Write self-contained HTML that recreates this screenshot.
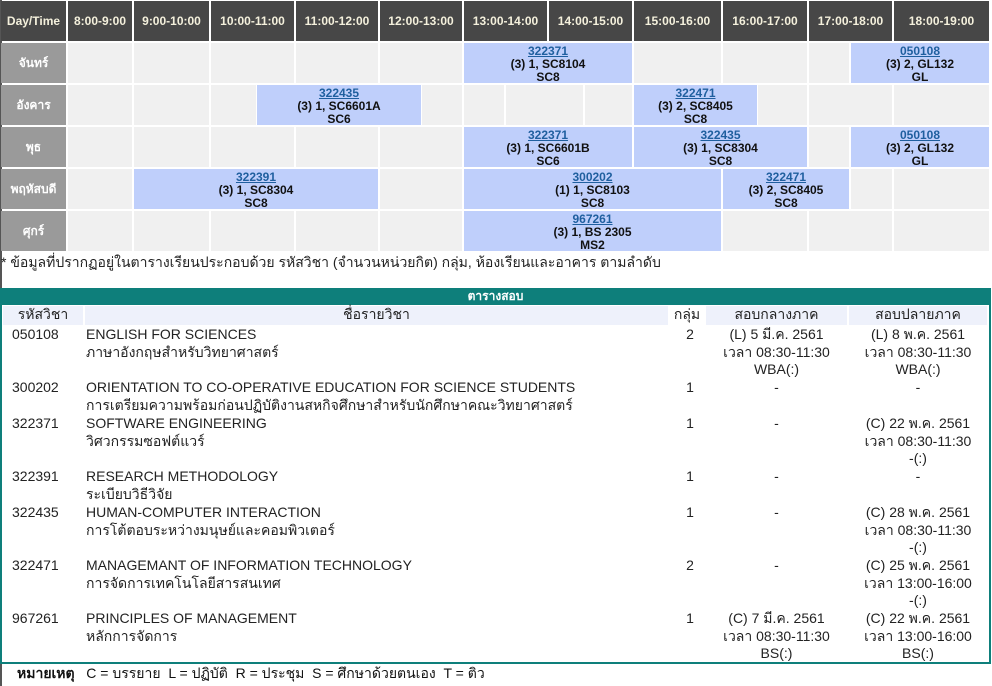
<!DOCTYPE html>
<html><head><meta charset="utf-8"><style>
*{margin:0;padding:0;box-sizing:border-box}
body{width:992px;height:686px;background:#fff;position:relative;overflow:hidden;font-family:"Liberation Sans","Noto Sans CJK SC",sans-serif;}
.c{position:absolute;background:#f0f0f0}
.h{position:absolute;background:#474747;color:#f4f0dc;font-weight:bold;font-size:12px;text-align:center;line-height:40px}
.d{position:absolute;background:#9a9a9a;color:#fff;font-weight:bold;font-size:12px;text-align:center;line-height:40px}
.b{position:absolute;background:#bfcffb;font-weight:bold;font-size:12px;text-align:center;line-height:13px;padding-top:2px;color:#111}
.b a{color:#1f5f9f;text-decoration:underline}
.t{position:absolute;font-size:14px;line-height:17.5px;color:#222}
.ctr{text-align:center}
</style></head><body>
<div style="position:absolute;left:0;top:0;width:989px;height:252px;background:#fff"></div>
<div style="position:absolute;left:0;top:0;width:2px;height:686px;background:#555"></div>
<!-- header -->
<div class="h" style="left:1px;top:1px;width:65px;height:40px">Day/Time</div>
<div class="h" style="left:68px;top:1px;width:64px;height:40px">8:00-9:00</div>
<div class="h" style="left:134px;top:1px;width:75px;height:40px">9:00-10:00</div>
<div class="h" style="left:211px;top:1px;width:83px;height:40px">10:00-11:00</div>
<div class="h" style="left:296px;top:1px;width:82px;height:40px">11:00-12:00</div>
<div class="h" style="left:380px;top:1px;width:82px;height:40px">12:00-13:00</div>
<div class="h" style="left:464px;top:1px;width:83px;height:40px">13:00-14:00</div>
<div class="h" style="left:549px;top:1px;width:83px;height:40px">14:00-15:00</div>
<div class="h" style="left:634px;top:1px;width:87px;height:40px">15:00-16:00</div>
<div class="h" style="left:723px;top:1px;width:84px;height:40px">16:00-17:00</div>
<div class="h" style="left:809px;top:1px;width:83px;height:40px">17:00-18:00</div>
<div class="h" style="left:894px;top:1px;width:95px;height:40px">18:00-19:00</div>
<!-- days -->
<div class="d" style="left:1px;top:43px;width:65px;height:40px">จันทร์</div>
<div class="d" style="left:1px;top:85px;width:65px;height:40px">อังคาร</div>
<div class="d" style="left:1px;top:127px;width:65px;height:40px">พุธ</div>
<div class="d" style="left:1px;top:169px;width:65px;height:40px">พฤหัสบดี</div>
<div class="d" style="left:1px;top:211px;width:65px;height:40px">ศุกร์</div>
<!-- Mon -->
<div class="c" style="left:68px;top:43px;width:64px;height:40px"></div>
<div class="c" style="left:134px;top:43px;width:75px;height:40px"></div>
<div class="c" style="left:211px;top:43px;width:83px;height:40px"></div>
<div class="c" style="left:296px;top:43px;width:82px;height:40px"></div>
<div class="c" style="left:380px;top:43px;width:82px;height:40px"></div>
<div class="b" style="left:464px;top:43px;width:168px;height:40px"><a>322371</a><br>(3) 1, SC8104<br>SC8</div>
<div class="c" style="left:634px;top:43px;width:87px;height:40px"></div>
<div class="c" style="left:723px;top:43px;width:84px;height:40px"></div>
<div class="c" style="left:809px;top:43px;width:40px;height:40px"></div>
<div class="b" style="left:851px;top:43px;width:138px;height:40px"><a>050108</a><br>(3) 2, GL132<br>GL</div>
<!-- Tue -->
<div class="c" style="left:68px;top:85px;width:64px;height:40px"></div>
<div class="c" style="left:134px;top:85px;width:75px;height:40px"></div>
<div class="c" style="left:211px;top:85px;width:45px;height:40px"></div>
<div class="b" style="left:257px;top:85px;width:164px;height:40px"><a>322435</a><br>(3) 1, SC6601A<br>SC6</div>
<div class="c" style="left:422px;top:85px;width:40px;height:40px"></div>
<div class="c" style="left:464px;top:85px;width:40px;height:40px"></div>
<div class="c" style="left:506px;top:85px;width:77px;height:40px"></div>
<div class="c" style="left:585px;top:85px;width:47px;height:40px"></div>
<div class="b" style="left:634px;top:85px;width:123px;height:40px"><a>322471</a><br>(3) 2, SC8405<br>SC8</div>
<div class="c" style="left:758px;top:85px;width:49px;height:40px"></div>
<div class="c" style="left:809px;top:85px;width:83px;height:40px"></div>
<div class="c" style="left:894px;top:85px;width:95px;height:40px"></div>
<!-- Wed -->
<div class="c" style="left:68px;top:127px;width:64px;height:40px"></div>
<div class="c" style="left:134px;top:127px;width:75px;height:40px"></div>
<div class="c" style="left:211px;top:127px;width:83px;height:40px"></div>
<div class="c" style="left:296px;top:127px;width:82px;height:40px"></div>
<div class="c" style="left:380px;top:127px;width:82px;height:40px"></div>
<div class="b" style="left:464px;top:127px;width:168px;height:40px"><a>322371</a><br>(3) 1, SC6601B<br>SC6</div>
<div class="b" style="left:634px;top:127px;width:173px;height:40px"><a>322435</a><br>(3) 1, SC8304<br>SC8</div>
<div class="c" style="left:809px;top:127px;width:40px;height:40px"></div>
<div class="b" style="left:851px;top:127px;width:138px;height:40px"><a>050108</a><br>(3) 2, GL132<br>GL</div>
<!-- Thu -->
<div class="c" style="left:68px;top:169px;width:64px;height:40px"></div>
<div class="b" style="left:134px;top:169px;width:244px;height:40px"><a>322391</a><br>(3) 1, SC8304<br>SC8</div>
<div class="c" style="left:380px;top:169px;width:82px;height:40px"></div>
<div class="b" style="left:464px;top:169px;width:257px;height:40px"><a>300202</a><br>(1) 1, SC8103<br>SC8</div>
<div class="b" style="left:723px;top:169px;width:126px;height:40px"><a>322471</a><br>(3) 2, SC8405<br>SC8</div>
<div class="c" style="left:851px;top:169px;width:41px;height:40px"></div>
<div class="c" style="left:894px;top:169px;width:95px;height:40px"></div>
<!-- Fri -->
<div class="c" style="left:68px;top:211px;width:64px;height:40px"></div>
<div class="c" style="left:134px;top:211px;width:75px;height:40px"></div>
<div class="c" style="left:211px;top:211px;width:83px;height:40px"></div>
<div class="c" style="left:296px;top:211px;width:82px;height:40px"></div>
<div class="c" style="left:380px;top:211px;width:82px;height:40px"></div>
<div class="b" style="left:464px;top:211px;width:257px;height:40px"><a>967261</a><br>(3) 1, BS 2305<br>MS2</div>
<div class="c" style="left:723px;top:211px;width:84px;height:40px"></div>
<div class="c" style="left:809px;top:211px;width:83px;height:40px"></div>
<div class="c" style="left:894px;top:211px;width:95px;height:40px"></div>

<div class="t" style="left:1px;top:254px">* ข้อมูลที่ปรากฏอยู่ในตารางเรียนประกอบด้วย รหัสวิชา (จำนวนหน่วยกิต) กลุ่ม, ห้องเรียนและอาคาร ตามลำดับ</div>

<!-- exam table -->
<div style="position:absolute;left:0;top:288px;width:991px;height:376px;border:2px solid #0e7f7b;background:#fff"></div>
<div style="position:absolute;left:0;top:288px;width:991px;height:17px;background:#0e7f7b;color:#fff;font-weight:bold;font-size:12px;text-align:center;line-height:17px">ตารางสอบ</div>
<div style="position:absolute;left:2px;top:306px;width:987px;height:19px;background:#fff"></div>
<div class="t ctr" style="left:3px;top:306px;width:80px;height:19px;background:#eef1fb">รหัสวิชา</div>
<div class="t ctr" style="left:85px;top:306px;width:583px;height:19px;background:#eef1fb">ชื่อรายวิชา</div>
<div class="t ctr" style="left:670px;top:306px;width:34px;height:19px;background:#fff">กลุ่ม</div>
<div class="t ctr" style="left:706px;top:306px;width:141px;height:19px;background:#eef1fb">สอบกลางภาค</div>
<div class="t ctr" style="left:849px;top:306px;width:138px;height:19px;background:#eef1fb">สอบปลายภาค</div>

<div class="t" style="left:12px;top:326px">050108</div>
<div class="t" style="left:86px;top:326px">ENGLISH FOR SCIENCES<br>ภาษาอังกฤษสำหรับวิทยาศาสตร์</div>
<div class="t ctr" style="left:670px;top:326px;width:40px">2</div>
<div class="t ctr" style="left:706px;top:326px;width:141px">(L) 5 มี.ค. 2561<br>เวลา 08:30-11:30<br>WBA(:)</div>
<div class="t ctr" style="left:849px;top:326px;width:138px">(L) 8 พ.ค. 2561<br>เวลา 08:30-11:30<br>WBA(:)</div>

<div class="t" style="left:12px;top:379px">300202</div>
<div class="t" style="left:86px;top:379px">ORIENTATION TO CO-OPERATIVE EDUCATION FOR SCIENCE STUDENTS<br>การเตรียมความพร้อมก่อนปฏิบัติงานสหกิจศึกษาสำหรับนักศึกษาคณะวิทยาศาสตร์</div>
<div class="t ctr" style="left:670px;top:379px;width:40px">1</div>
<div class="t ctr" style="left:706px;top:379px;width:141px">-</div>
<div class="t ctr" style="left:849px;top:379px;width:138px">-</div>

<div class="t" style="left:12px;top:415px">322371</div>
<div class="t" style="left:86px;top:415px">SOFTWARE ENGINEERING<br>วิศวกรรมซอฟต์แวร์</div>
<div class="t ctr" style="left:670px;top:415px;width:40px">1</div>
<div class="t ctr" style="left:706px;top:415px;width:141px">-</div>
<div class="t ctr" style="left:849px;top:415px;width:138px">(C) 22 พ.ค. 2561<br>เวลา 08:30-11:30<br>-(:)</div>

<div class="t" style="left:12px;top:468px">322391</div>
<div class="t" style="left:86px;top:468px">RESEARCH METHODOLOGY<br>ระเบียบวิธีวิจัย</div>
<div class="t ctr" style="left:670px;top:468px;width:40px">1</div>
<div class="t ctr" style="left:706px;top:468px;width:141px">-</div>
<div class="t ctr" style="left:849px;top:468px;width:138px">-</div>

<div class="t" style="left:12px;top:504px">322435</div>
<div class="t" style="left:86px;top:504px">HUMAN-COMPUTER INTERACTION<br>การโต้ตอบระหว่างมนุษย์และคอมพิวเตอร์</div>
<div class="t ctr" style="left:670px;top:504px;width:40px">1</div>
<div class="t ctr" style="left:706px;top:504px;width:141px">-</div>
<div class="t ctr" style="left:849px;top:504px;width:138px">(C) 28 พ.ค. 2561<br>เวลา 08:30-11:30<br>-(:)</div>

<div class="t" style="left:12px;top:557px">322471</div>
<div class="t" style="left:86px;top:557px">MANAGEMANT OF INFORMATION TECHNOLOGY<br>การจัดการเทคโนโลยีสารสนเทศ</div>
<div class="t ctr" style="left:670px;top:557px;width:40px">2</div>
<div class="t ctr" style="left:706px;top:557px;width:141px">-</div>
<div class="t ctr" style="left:849px;top:557px;width:138px">(C) 25 พ.ค. 2561<br>เวลา 13:00-16:00<br>-(:)</div>

<div class="t" style="left:12px;top:610px">967261</div>
<div class="t" style="left:86px;top:610px">PRINCIPLES OF MANAGEMENT<br>หลักการจัดการ</div>
<div class="t ctr" style="left:670px;top:610px;width:40px">1</div>
<div class="t ctr" style="left:706px;top:610px;width:141px">(C) 7 มี.ค. 2561<br>เวลา 08:30-11:30<br>BS(:)</div>
<div class="t ctr" style="left:849px;top:610px;width:138px">(C) 22 พ.ค. 2561<br>เวลา 13:00-16:00<br>BS(:)</div>

<div class="t" style="left:17px;top:665px;color:#111"><b>หมายเหตุ</b>&nbsp;&nbsp; C = บรรยาย &nbsp;L = ปฏิบัติ &nbsp;R = ประชุม &nbsp;S = ศึกษาด้วยตนเอง &nbsp;T = ติว</div>
</body></html>
